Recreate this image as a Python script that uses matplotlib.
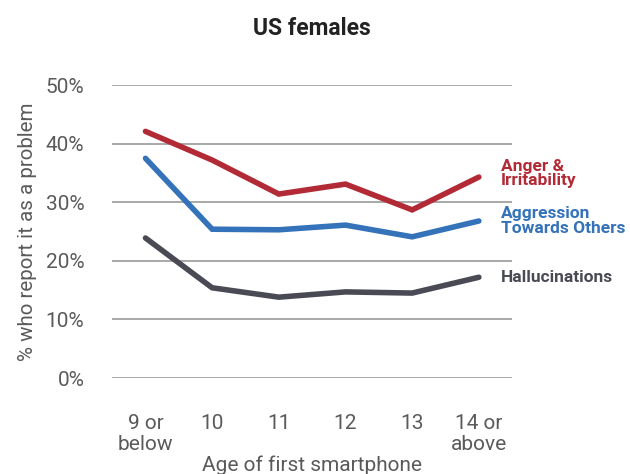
import matplotlib
matplotlib.use("Agg")
import matplotlib.pyplot as plt

ages = ["9 or\nbelow", "10", "11", "12", "13", "14 or\nabove"]
anger = [42.1, 37.2, 31.4, 33.1, 28.7, 34.3]
aggression = [37.5, 25.4, 25.3, 26.1, 24.1, 26.8]
hallucinations = [23.9, 15.4, 13.8, 14.7, 14.5, 17.2]
yticks = [0, 10, 20, 30, 40, 50]

series = [
    ("Anger &\nIrritability", anger, "#B12A35"),
    ("Aggression\nTowards Others", aggression, "#3472BA"),
    ("Hallucinations", hallucinations, "#4A4A55"),
]

plt.rcParams["font.family"] = ["Roboto", "DejaVu Sans"]

fig = plt.figure(figsize=(6.3, 4.74), dpi=100)
ax = fig.add_axes([0.178, 0.2025, 0.635, 0.618])

x = list(range(len(ages)))
for name, vals, col in series:
    ax.plot(x, vals, color=col, lw=4, solid_capstyle="round", solid_joinstyle="miter")
    ax.text(5.33, vals[-1] + (0.6 if name.startswith("Anger") else 0), name, color=col,
            fontsize=12.5, fontweight="bold", va="center", ha="left", linespacing=0.92)

ax.set_xlim(-0.5, 5.5)
ax.set_ylim(0, 50)
ax.set_yticks(yticks)
ax.set_yticklabels([f"{t}%" for t in yticks])
ax.set_xticks(x)
ax.set_xticklabels(ages, linespacing=1.1)
ax.grid(axis="y", color="#999999", lw=1.2)
ax.set_axisbelow(True)
for s in ax.spines.values():
    s.set_visible(False)
ax.tick_params(length=0, labelsize=15, labelcolor="#5a5a5a")
ax.tick_params(axis="y", pad=20)
ax.tick_params(axis="x", pad=26)

ax.set_title("US females", fontsize=16.5, fontweight="bold", pad=36, color="#222222")
ax.set_ylabel("% who report it as a problem", fontsize=14.8, color="#5a5a5a", labelpad=6)
ax.set_xlabel("Age of first smartphone", fontsize=15, color="#5a5a5a", labelpad=1)

fig.savefig("out.png", dpi=100, facecolor="white")
